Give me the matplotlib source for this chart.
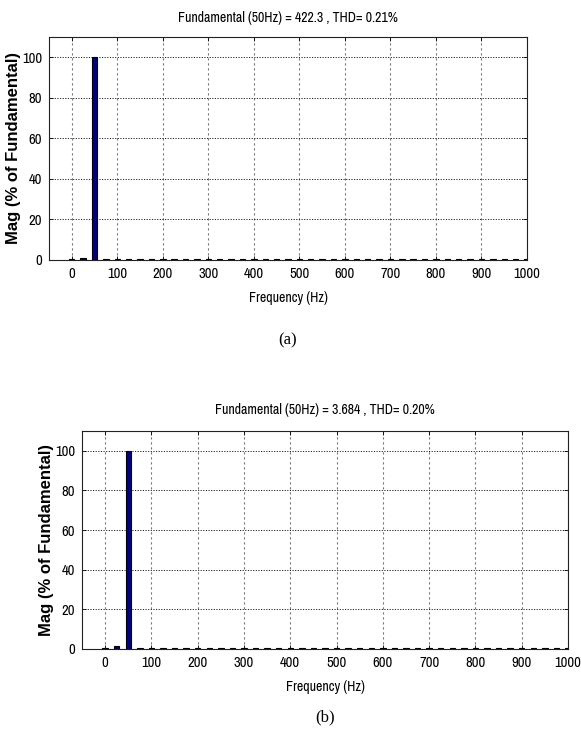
import matplotlib
matplotlib.use("Agg")
import matplotlib.pyplot as plt
from matplotlib import font_manager
from matplotlib.font_manager import FontProperties

# harmonic bins (Hz) and magnitudes in % of fundamental
freq_hz = list(range(0, 1001, 25))
mag_a = [0.5, 1.0, 100.0] + [0.5] * (len(freq_hz) - 3)
mag_b = [0.5, 1.5, 100.0] + [0.5] * (len(freq_hz) - 3)

titles = [
    "Fundamental (50Hz) = 422.3 , THD= 0.21%",
    "Fundamental (50Hz) = 3.684 , THD= 0.20%",
]
captions = ["(a)", "(b)"]
x_ticks = list(range(0, 1001, 100))
y_ticks = [0, 20, 40, 60, 80, 100]


def narrow_font():
    # look for an Arial Narrow look-alike among installed fonts
    cands = []
    for f in font_manager.fontManager.ttflist:
        name = (f.name + " " + f.fname).lower()
        if f.weight not in (400, "normal", "regular") or f.style != "normal":
            continue
        if "narrow" in name:
            cands.append((0, f.fname))
        elif "condensed" in name or str(f.stretch) in ("condensed", "semi-condensed", "75", "87"):
            if "bold" not in name and "oblique" not in name and "italic" not in name:
                cands.append((1 if "sans" in name else 2, f.fname))
    if cands:
        cands.sort()
        return FontProperties(fname=cands[0][1])
    return FontProperties(family="Liberation Sans")


nf = narrow_font()

fig = plt.figure(figsize=(5.81, 7.38), dpi=100)
rects = [
    [49 / 581, 1 - 260 / 738, 478 / 581, 223 / 738],
    [82 / 581, 1 - 649 / 738, 486 / 581, 218 / 738],
]
caption_y = [1 - 340 / 738, 1 - 717 / 738]
title_pads = [11, 12]

for rect, mags, title, cap, cy, tpad in zip(rects, [mag_a, mag_b], titles, captions,
                                            caption_y, title_pads):
    ax = fig.add_axes(rect)
    ax.bar(freq_hz, mags, width=12, color="#000080", edgecolor="black", linewidth=0.8)
    ax.set_xlim(-50, 1000)
    ax.set_ylim(0, 110)
    ax.set_xticks(x_ticks)
    ax.set_yticks(y_ticks)
    ax.grid(True, axis="y", color="#222222", linestyle=(0, (1.2, 1.5)), linewidth=0.7)
    ax.grid(True, axis="x", color="#777777", linestyle=(0, (2, 2.5)), linewidth=0.8)
    ax.set_axisbelow(True)
    ax.tick_params(direction="in", top=True, right=True, length=3, width=0.6, pad=5)
    tick_fp = nf.copy()
    tick_fp.set_size(10.5)
    for lab in ax.get_xticklabels() + ax.get_yticklabels():
        lab.set_fontproperties(tick_fp)
    for sp in ax.spines.values():
        sp.set_linewidth(0.8)
        sp.set_color("#222222")
    title_fp = nf.copy()
    title_fp.set_size(10)
    ax.set_title(title, fontproperties=title_fp, pad=tpad)
    ax.set_xlabel("Frequency (Hz)", fontproperties=title_fp, labelpad=7)
    ax.set_ylabel("Mag (% of Fundamental)", fontsize=12, fontweight="bold",
                  family="Liberation Sans", labelpad=1)
    x0 = rect[0] + rect[2] * 0.5
    fig.text(x0, cy, cap, ha="center", va="center", fontsize=12,
             family="Liberation Serif")

fig.savefig("out.png", dpi=100)
